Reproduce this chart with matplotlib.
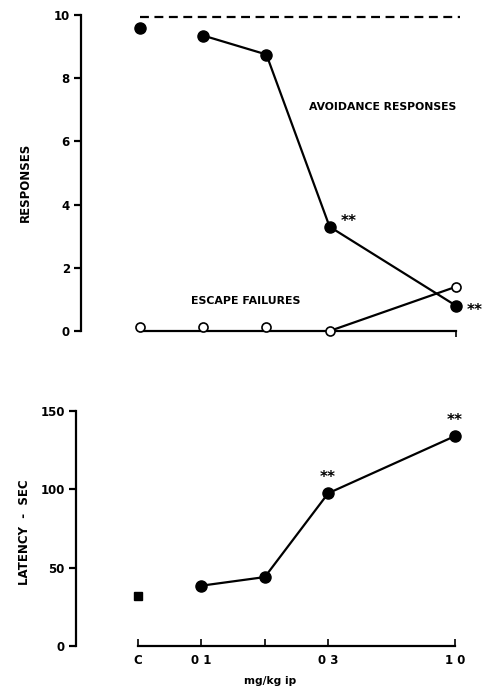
import matplotlib
matplotlib.use("Agg")
import matplotlib.pyplot as plt
from matplotlib import font_manager


def fp(size):
    return font_manager.FontProperties(family='DejaVu Sans', weight='bold', size=size * 0.85)


# data
dose_pos = [0, 1, 2, 3, 5]
dose_labels = ['C', '0 1', '', '0 3', '1 0']
avoid_control = 9.6
avoid_drug = [9.35, 8.75, 3.3, 0.8]
escape = [0.12, 0.12, 0.12, 0.0, 1.4]
max_responses = 9.95
latency_control = 32
latency_control_err = 2
latency_drug = [38.5, 44, 97.5, 134]
sig_lat = [3, 5]
resp_ticks = [0, 2, 4, 6, 8, 10]
lat_ticks = [0, 50, 100, 150]

W, H = 487, 694
fig = plt.figure(figsize=(W / 100, H / 100), dpi=100)

lw = 1.6
# ---------- top panel ----------
ax1 = fig.add_axes([81 / W, 1 - 331 / H, 384.5 / W, 316 / H])
ax1.set_xlim(-0.933, 5.15)
ax1.set_ylim(0, 10)
ax1.plot([dose_pos[0], dose_pos[-1] + 0.06], [max_responses] * 2, 'k--', lw=1.6,
         dashes=(4, 2.5), clip_on=False)
ax1.plot(dose_pos[0], avoid_control, 'ko', ms=8, clip_on=False)
ax1.plot(dose_pos[1:], avoid_drug, 'k-o', ms=8, lw=lw, clip_on=False, zorder=4)
ax1.plot(dose_pos[3:], escape[3:], 'k-', lw=lw, clip_on=False, zorder=3)
ax1.plot(dose_pos, escape, 'o', mfc='white', mec='k', ms=6.5, mew=1.2,
         ls='none', clip_on=False, zorder=5)
ax1.text(3.17, 3.45, '**', fontproperties=fp(13), ha='left', va='center')
ax1.text(5.17, 0.65, '**', fontproperties=fp(13), ha='left', va='center')
ax1.text(2.67, 7.1, 'AVOIDANCE RESPONSES', fontproperties=fp(9.2), ha='left', va='center')
ax1.text(0.8, 0.95, 'ESCAPE FAILURES', fontproperties=fp(9.3), ha='left', va='center')
for s in ['top', 'right']:
    ax1.spines[s].set_visible(False)
ax1.spines['left'].set_linewidth(lw)
ax1.spines['bottom'].set_linewidth(lw)
ax1.spines['bottom'].set_bounds(0, 5)
ax1.set_yticks(resp_ticks)
ax1.set_yticklabels([str(t) for t in resp_ticks], fontproperties=fp(10))
ax1.set_xticks([5])
ax1.set_xticklabels([''])
ax1.tick_params(axis='y', length=5, width=lw, pad=3)
ax1.tick_params(axis='x', length=4, width=1.2)
fig.text(25 / W, 1 - 182 / H, 'RESPONSES', fontproperties=fp(10), rotation=90,
         ha='center', va='center')

# ---------- bottom panel ----------
ax2 = fig.add_axes([76 / W, 1 - 646 / H, 388.5 / W, 235 / H])
ax2.set_xlim(-0.978, 5.15)
ax2.set_ylim(0, 150)
ax2.errorbar(dose_pos[0], latency_control, yerr=latency_control_err, fmt='ks',
             ms=6, capsize=3, lw=1.5, clip_on=False)
ax2.plot(dose_pos[1:], latency_drug, 'k-o', ms=8, lw=lw, clip_on=False)
for p in sig_lat:
    ax2.text(p, latency_drug[dose_pos.index(p) - 1] + 5, '**', fontproperties=fp(13),
             ha='center', va='bottom')
for s in ['top', 'right']:
    ax2.spines[s].set_visible(False)
ax2.spines['left'].set_linewidth(lw)
ax2.spines['bottom'].set_linewidth(lw)
ax2.spines['bottom'].set_bounds(0, 5)
ax2.set_yticks(lat_ticks)
ax2.set_yticklabels([str(t) for t in lat_ticks], fontproperties=fp(10))
ax2.set_xticks(dose_pos)
ax2.set_xticklabels(dose_labels, fontproperties=fp(10))
ax2.tick_params(axis='y', length=5, width=lw, pad=3)
ax2.tick_params(axis='x', direction='in', length=5, width=1.2, pad=6)
ax2.set_xlabel('mg/kg ip', fontproperties=fp(9), labelpad=6)
fig.text(25 / W, 1 - 532 / H, 'LATENCY  -  SEC', fontproperties=fp(10), rotation=90,
         ha='center', va='center')

fig.savefig('out.png', dpi=100)
